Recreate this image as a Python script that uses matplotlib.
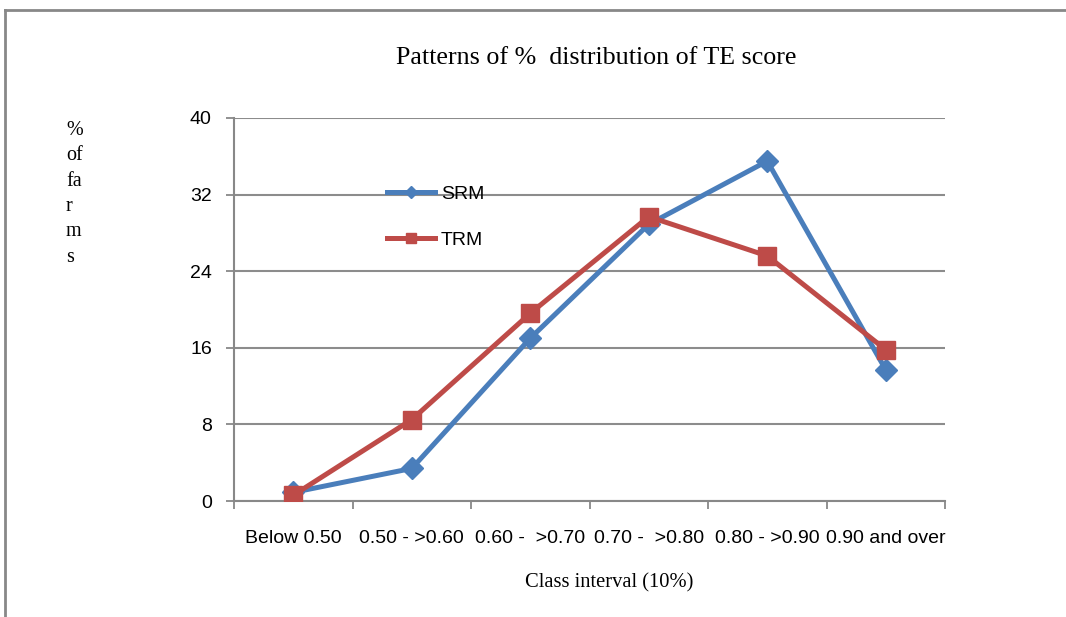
import numpy as np
from matplotlib import pyplot as plt
from matplotlib.lines import Line2D

categories = ['Below 0.50', '0.50 - >0.60', '0.60 -  >0.70', '0.70 -  >0.80',
              '0.80 - >0.90', '0.90 and over']
srm = [0.9, 3.4, 17.0, 28.9, 35.5, 13.7]
trm = [0.6, 8.5, 19.6, 29.7, 25.6, 15.8]
yticks = [0, 8, 16, 24, 32, 40]


def main():
    fig = plt.figure(figsize=(10.66, 6.17), dpi=100)
    ax = fig.add_axes([234 / 1066, 1 - 501 / 617, 711 / 1066, 383 / 617])

    x = np.arange(len(categories))
    ax.plot(x, srm, color='#4A7EBB', lw=3.6, marker='D', ms=11, label='SRM', zorder=3)
    ax.plot(x, trm, color='#BE4B48', lw=3.6, marker='s', ms=13, label='TRM', zorder=4)

    ax.set_xlim(-0.5, 5.5)
    ax.set_ylim(0, 40)
    ax.set_yticks(yticks)
    ax.set_xticks(np.arange(-0.5, 6, 1))
    ax.set_xticklabels([])
    ax.set_xticks(x, minor=True)
    ax.set_xticklabels(categories, minor=True, fontsize=14, family='Liberation Sans')
    ax.tick_params(axis='x', which='minor', length=0, pad=21)
    ax.tick_params(axis='x', which='major', length=6, color='#888888', width=1.3)
    ax.tick_params(axis='y', length=6, color='#888888', width=1.3, pad=10, labelsize=14)
    for lab in ax.get_yticklabels():
        lab.set_family('Liberation Sans')

    ax.grid(axis='y', color='#8c8c8c', lw=1.5)
    ax.set_axisbelow(True)
    for s in ['top', 'right']:
        ax.spines[s].set_visible(False)
    for s in ['left', 'bottom']:
        ax.spines[s].set_color('#888888')
        ax.spines[s].set_linewidth(1.5)

    ax.legend(loc='upper left', bbox_to_anchor=(0.19, 0.87), frameon=False,
              handlelength=2.5, labelspacing=1.45, handletextpad=0.3,
              prop={'family': 'Liberation Sans', 'size': 14}, markerscale=0.6)

    fig.text(596 / 1066, 1 - 58 / 617, 'Patterns of %  distribution of TE score',
             ha='center', va='center', family='Liberation Serif', fontsize=18.7)
    fig.text(609 / 1066, 1 - 583 / 617, 'Class interval (10%)',
             ha='center', va='center', family='Liberation Serif', fontsize=14.8)
    fig.text(66 / 1066, 1 - 121 / 617, '%\nof\nfa\nr\nm\ns',
             ha='left', va='top', family='Liberation Serif', fontsize=14.5, linespacing=1.45)

    fig.add_artist(Line2D([5 / 1066, 1], [1 - 10 / 617, 1 - 10 / 617],
                          transform=fig.transFigure, color='#888888', lw=2))
    fig.add_artist(Line2D([5 / 1066, 5 / 1066], [0, 1 - 10 / 617],
                          transform=fig.transFigure, color='#888888', lw=2))

    plt.savefig('out.png', dpi=100)


if __name__ == '__main__':
    main()
